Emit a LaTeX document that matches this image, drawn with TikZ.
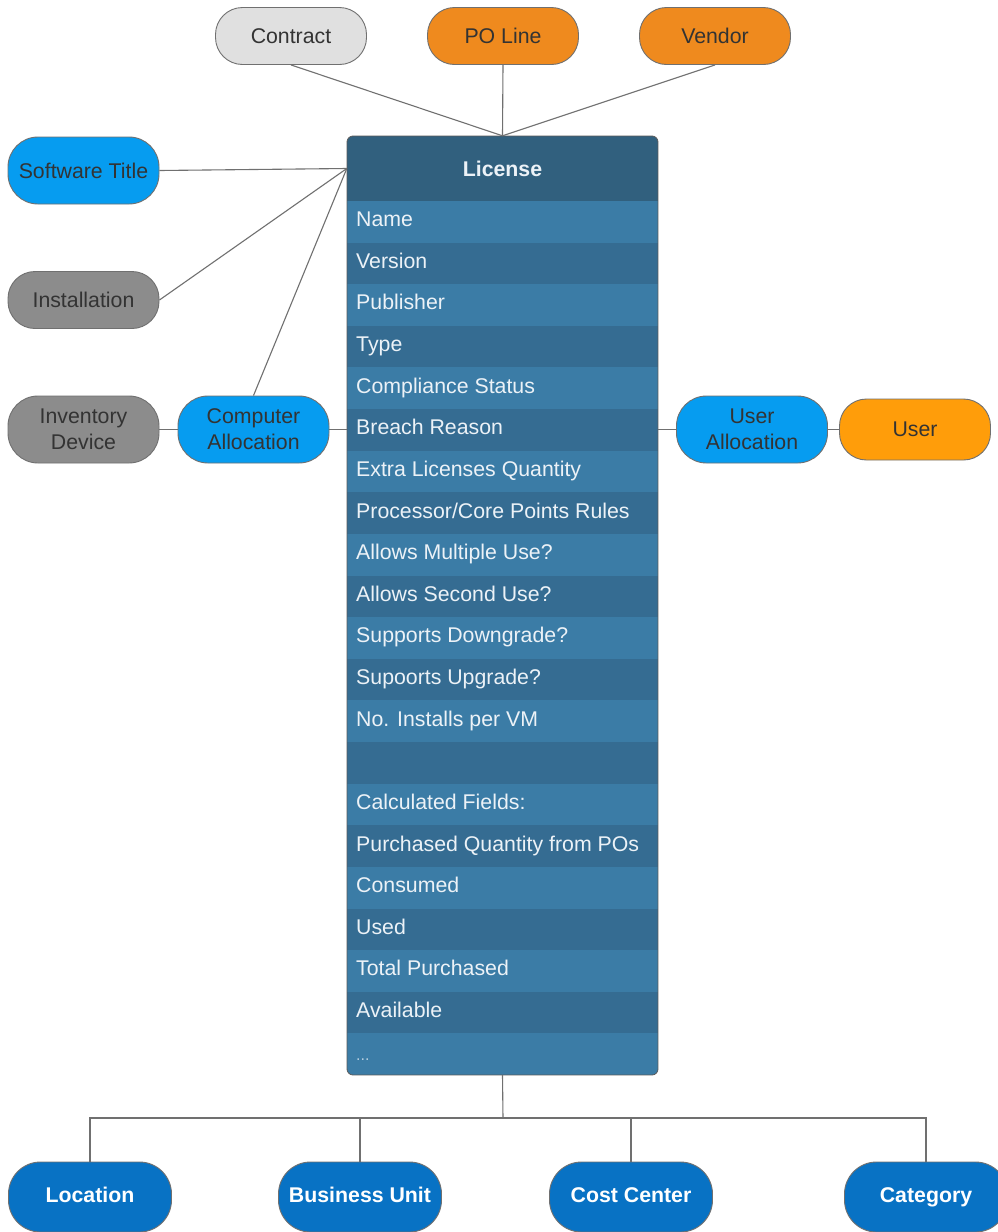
\documentclass[tikz,border=0pt]{standalone}
\usepackage{fontspec}
\setmainfont{Liberation Sans}
\definecolor{cblue}{RGB}{6,156,240}
\definecolor{cgray}{RGB}{140,140,140}
\definecolor{clight}{RGB}{224,224,224}
\definecolor{corange}{RGB}{239,138,30}
\definecolor{cuser}{RGB}{255,157,10}
\definecolor{cdeep}{RGB}{8,114,196}
\definecolor{chead}{RGB}{49,96,126}
\definecolor{rowa}{RGB}{59,124,166}
\definecolor{rowb}{RGB}{53,108,146}
\definecolor{edgec}{RGB}{112,112,112}
\definecolor{txt}{RGB}{51,51,51}
\definecolor{rowtxt}{RGB}{236,242,247}
\tikzset{
  pill/.style={draw=edgec, line width=0.9pt, rounded corners=27pt, minimum width=151pt, minimum height=57pt, inner sep=0pt, align=center, text=txt, font=\fontsize{21.3}{26}\selectfont},
  pilltall/.style={pill, minimum height=67pt, rounded corners=30pt},
  basepill/.style={draw=edgec, line width=0.9pt, fill=cdeep, rounded corners=32pt, minimum width=163pt, minimum height=70pt, inner sep=0pt, text=white, text height=15pt, text depth=4pt, font=\bfseries\fontsize{21.3}{26}\selectfont},
  conn/.style={draw=edgec, line width=1.1pt},
  rowtext/.style={anchor=west, text=rowtxt, inner sep=0pt, font=\fontsize{21.3}{26}\selectfont},
}
\begin{document}
\begin{tikzpicture}[x=1pt,y=-1pt]
\useasboundingbox (0,0) rectangle (997,1232);
\fill[white] (0,0) rectangle (997,1232);

% top nodes
\node[pill, fill=clight] (contract) at (291,36) {Contract};
\node[pill, fill=corange] (poline) at (503,36) {PO Line};
\node[pill, fill=corange] (vendor) at (715,36) {Vendor};

% left nodes
\node[pilltall, fill=cblue] (sw) at (83.5,170.5) {Software Title};
\node[pill, fill=cgray] (inst) at (83.5,300) {Installation};
\node[pilltall, fill=cgray] (inv) at (83.5,429.5) {Inventory\\Device};
\node[pilltall, fill=cblue] (ca) at (253.5,429.5) {Computer\\Allocation};

% right nodes
\node[pilltall, fill=cblue] (ua) at (752,429.5) {User\\Allocation};
\node[pill, fill=cuser, minimum height=61pt] (user) at (915,429.5) {User};

% license table
\node[minimum width=311pt, minimum height=939pt, inner sep=0pt] (lic) at (502.5,605.5) {};
\begin{scope}
  \clip[rounded corners=6pt] (347,136) rectangle (658,1075);
  \fill[chead] (347,136) rectangle (658,201);
  \foreach \i in {0,2,4,6,8,10,12,14,16,18,20}{
    \fill[rowa] (347,{201+41.62*\i}) rectangle (658,{201+41.62*(\i+1)});
  }
  \foreach \i in {1,3,5,7,9,11,13,15,17,19}{
    \fill[rowb] (347,{201+41.62*\i}) rectangle (658,{201+41.62*(\i+1)});
  }
\end{scope}
\draw[edgec!80!black, line width=0.8pt, rounded corners=6pt] (347,136) rectangle (658,1075);
\node[text=rowtxt, inner sep=0pt, minimum width=311pt, minimum height=65pt, font=\bfseries\fontsize{21.3}{26}\selectfont] (hdr) at (502.5,168.5) {License};

\foreach \t [count=\k from 0] in {Name,Version,Publisher,Type,Compliance Status,Breach Reason,Extra Licenses Quantity,Processor/Core Points Rules,Allows Multiple Use?,Allows Second Use?,Supports Downgrade?,Supoorts Upgrade?,No. Installs per VM}{
  \node[rowtext] (row\k) at (356,{221.5+41.62*\k}) {\strut\t};
}
\foreach \t [count=\k from 14] in {Calculated Fields:,Purchased Quantity from POs,Consumed,Used,Total Purchased,Available}{
  \node[rowtext] (row\k) at (356,{221.5+41.62*\k}) {\strut\t};
}
\node[rowtext, font=\fontsize{16}{20}\selectfont, text=rowtxt!70!rowa] (row20) at (356,{224+41.62*20}) {\strut...};

% connectors top
\draw[conn] (contract.south) -- (hdr.north);
\draw[conn] (poline.south) -- (hdr.north);
\draw[conn] (vendor.south) -- (hdr.north);

% connectors left
\draw[conn] (sw.east) -- (hdr.west);
\draw[conn] (inst.east) -- (hdr.west);
\draw[conn] (ca.north) -- (hdr.west);
\draw[conn] (inv.east) -- (ca.west);
\draw[conn] (ca.east) -- (ca.east -| lic.west);

% connectors right
\draw[conn] (ua.west -| lic.east) -- (ua.west);
\draw[conn] (ua.east) -- (user.west);

% bottom nodes
\node[basepill] (loc) at (90,1197) {Location};
\node[basepill] (bu) at (360,1197) {Business Unit};
\node[basepill] (cc) at (631,1197) {Cost Center};
\node[basepill] (cat) at (926,1197) {Category};
\coordinate (bus) at (503,1118);
\draw[conn] (lic.south) -- (bus);
\draw[conn] (loc.north) |- (bus) -| (cat.north);
\draw[conn] (bu.north) -- (bu.north |- bus);
\draw[conn] (cc.north) -- (cc.north |- bus);
\end{tikzpicture}
\end{document}
